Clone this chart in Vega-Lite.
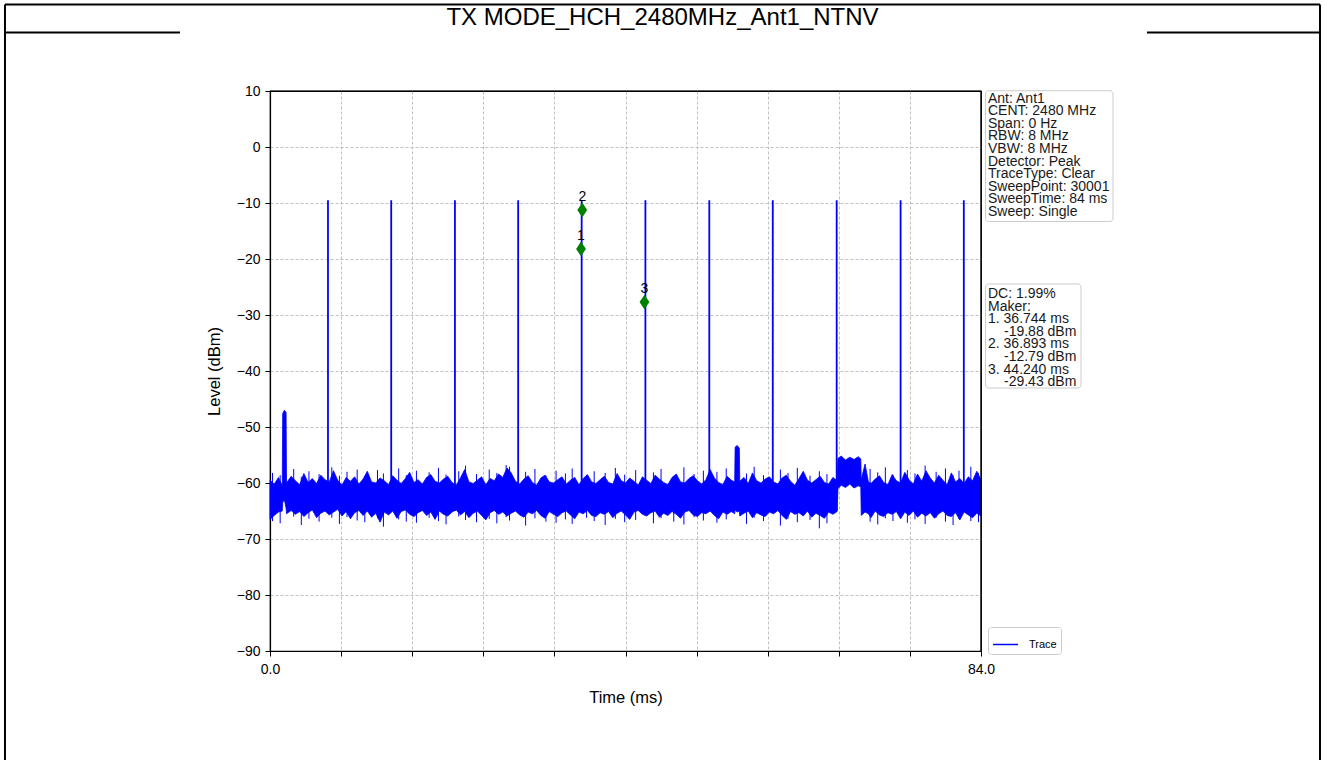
{
  "$schema": "https://vega.github.io/schema/vega-lite/v6.json",
  "autosize": "none",
  "width": 711,
  "height": 560,
  "padding": {"left": 270, "top": 91, "right": 344, "bottom": 109},
  "background": "white",
  "config": {
    "view": {"stroke": "#000000", "strokeWidth": 1.2},
    "font": "Liberation Sans",
    "axis": {"labelFont": "Liberation Sans", "labelFontSize": 14, "labelColor": "#000000", "labelFlush": false, "titleFont": "Liberation Sans", "titleFontSize": 16.5, "titleFontWeight": "normal", "titleColor": "#000000", "domainColor": "#000000", "domainWidth": 1.2, "tickColor": "#000000", "tickSize": 5, "tickWidth": 1, "gridColor": "#b0b0b0", "gridDash": [3, 2], "gridWidth": 0.8, "labelPadding": 5}
  },
  "datasets": {
    "noise": [
      {"t": 0.0, "hi": -59.5, "lo": -66.5}, {"t": 0.5, "hi": -60.2, "lo": -65.8}, {"t": 1.0, "hi": -59.0, "lo": -65.2}, {"t": 1.45, "hi": -60.5, "lo": -65.0},
      {"t": 1.5, "hi": -47.6, "lo": -63.5}, {"t": 1.7, "hi": -47.0, "lo": -63.0}, {"t": 1.9, "hi": -47.4, "lo": -64.5}, {"t": 1.95, "hi": -60.0, "lo": -65.5},
      {"t": 2.5, "hi": -58.8, "lo": -64.9}, {"t": 3.0, "hi": -59.6, "lo": -65.6}, {"t": 3.5, "hi": -60.3, "lo": -65.1}, {"t": 4.0, "hi": -58.3, "lo": -66.0},
      {"t": 4.5, "hi": -59.9, "lo": -65.3}, {"t": 5.0, "hi": -59.2, "lo": -64.8}, {"t": 5.5, "hi": -60.1, "lo": -66.2}, {"t": 6.0, "hi": -58.6, "lo": -65.4},
      {"t": 6.5, "hi": -59.4, "lo": -65.0}, {"t": 7.0, "hi": -59.8, "lo": -65.7}, {"t": 7.5, "hi": -57.8, "lo": -65.2}, {"t": 8.0, "hi": -59.5, "lo": -64.7},
      {"t": 8.5, "hi": -60.4, "lo": -65.9}, {"t": 9.0, "hi": -59.0, "lo": -65.1}, {"t": 9.5, "hi": -59.7, "lo": -66.4}, {"t": 10.0, "hi": -58.9, "lo": -65.3},
      {"t": 10.5, "hi": -60.2, "lo": -64.9}, {"t": 11.0, "hi": -59.3, "lo": -65.8}, {"t": 11.5, "hi": -57.9, "lo": -65.0}, {"t": 12.0, "hi": -59.8, "lo": -66.1},
      {"t": 12.5, "hi": -60.0, "lo": -65.4}, {"t": 13.0, "hi": -59.1, "lo": -67.0}, {"t": 13.5, "hi": -59.6, "lo": -65.2}, {"t": 14.0, "hi": -60.3, "lo": -65.7},
      {"t": 14.5, "hi": -58.7, "lo": -65.0}, {"t": 15.0, "hi": -59.5, "lo": -66.3}, {"t": 15.5, "hi": -60.1, "lo": -65.1}, {"t": 16.0, "hi": -59.2, "lo": -64.8},
      {"t": 16.5, "hi": -58.1, "lo": -65.6}, {"t": 17.0, "hi": -59.9, "lo": -66.0}, {"t": 17.5, "hi": -59.4, "lo": -65.3}, {"t": 18.0, "hi": -60.2, "lo": -64.9},
      {"t": 18.5, "hi": -59.0, "lo": -65.8}, {"t": 19.0, "hi": -58.5, "lo": -65.2}, {"t": 19.5, "hi": -59.7, "lo": -66.5}, {"t": 20.0, "hi": -60.0, "lo": -65.0},
      {"t": 20.5, "hi": -59.3, "lo": -65.6}, {"t": 21.0, "hi": -58.8, "lo": -65.9}, {"t": 21.5, "hi": -59.9, "lo": -65.2}, {"t": 22.0, "hi": -60.4, "lo": -64.8},
      {"t": 22.5, "hi": -59.1, "lo": -65.7}, {"t": 23.0, "hi": -57.6, "lo": -65.1}, {"t": 23.5, "hi": -59.8, "lo": -66.2}, {"t": 24.0, "hi": -60.1, "lo": -65.4},
      {"t": 24.5, "hi": -59.5, "lo": -65.0}, {"t": 25.0, "hi": -58.9, "lo": -65.8}, {"t": 25.5, "hi": -60.3, "lo": -66.6}, {"t": 26.0, "hi": -59.2, "lo": -65.3},
      {"t": 26.5, "hi": -59.6, "lo": -64.9}, {"t": 27.0, "hi": -58.4, "lo": -65.6}, {"t": 27.5, "hi": -59.0, "lo": -65.2}, {"t": 28.0, "hi": -57.3, "lo": -65.9},
      {"t": 28.5, "hi": -58.2, "lo": -65.4}, {"t": 29.0, "hi": -59.7, "lo": -65.0}, {"t": 29.5, "hi": -60.2, "lo": -65.7}, {"t": 30.0, "hi": -59.3, "lo": -66.1},
      {"t": 30.5, "hi": -58.7, "lo": -65.2}, {"t": 31.0, "hi": -59.9, "lo": -65.5}, {"t": 31.5, "hi": -60.4, "lo": -64.9}, {"t": 32.0, "hi": -59.1, "lo": -65.8},
      {"t": 32.5, "hi": -58.6, "lo": -66.3}, {"t": 33.0, "hi": -59.8, "lo": -65.1}, {"t": 33.5, "hi": -60.0, "lo": -65.6}, {"t": 34.0, "hi": -59.4, "lo": -66.0},
      {"t": 34.5, "hi": -58.9, "lo": -65.3}, {"t": 35.0, "hi": -60.2, "lo": -65.0}, {"t": 35.5, "hi": -59.5, "lo": -65.7}, {"t": 36.0, "hi": -59.0, "lo": -66.4},
      {"t": 36.5, "hi": -60.3, "lo": -65.2}, {"t": 37.0, "hi": -59.2, "lo": -65.5}, {"t": 37.5, "hi": -58.5, "lo": -64.9}, {"t": 38.0, "hi": -59.8, "lo": -65.8},
      {"t": 38.5, "hi": -60.1, "lo": -66.0}, {"t": 39.0, "hi": -59.4, "lo": -65.3}, {"t": 39.5, "hi": -58.8, "lo": -65.6}, {"t": 40.0, "hi": -59.9, "lo": -65.1},
      {"t": 40.5, "hi": -60.2, "lo": -66.2}, {"t": 41.0, "hi": -58.3, "lo": -65.4}, {"t": 41.5, "hi": -59.6, "lo": -65.0}, {"t": 42.0, "hi": -60.0, "lo": -65.7},
      {"t": 42.5, "hi": -59.1, "lo": -66.5}, {"t": 43.0, "hi": -59.7, "lo": -65.2}, {"t": 43.5, "hi": -60.4, "lo": -64.9}, {"t": 44.0, "hi": -58.9, "lo": -65.6},
      {"t": 44.5, "hi": -59.5, "lo": -65.9}, {"t": 45.0, "hi": -60.1, "lo": -65.3}, {"t": 45.5, "hi": -58.6, "lo": -65.0}, {"t": 46.0, "hi": -59.3, "lo": -66.1},
      {"t": 46.5, "hi": -59.9, "lo": -65.4}, {"t": 47.0, "hi": -60.3, "lo": -65.8}, {"t": 47.5, "hi": -59.0, "lo": -65.1}, {"t": 48.0, "hi": -58.4, "lo": -65.6},
      {"t": 48.5, "hi": -59.8, "lo": -66.3}, {"t": 49.0, "hi": -60.0, "lo": -65.2}, {"t": 49.5, "hi": -59.2, "lo": -64.9}, {"t": 50.0, "hi": -58.7, "lo": -65.7},
      {"t": 50.5, "hi": -59.6, "lo": -66.0}, {"t": 51.0, "hi": -60.2, "lo": -65.3}, {"t": 51.5, "hi": -59.4, "lo": -65.5}, {"t": 52.0, "hi": -57.6, "lo": -65.0},
      {"t": 52.5, "hi": -59.1, "lo": -65.8}, {"t": 53.0, "hi": -59.9, "lo": -66.4}, {"t": 53.5, "hi": -60.3, "lo": -65.2}, {"t": 54.0, "hi": -58.8, "lo": -65.6},
      {"t": 54.5, "hi": -59.5, "lo": -65.1}, {"t": 54.9, "hi": -59.8, "lo": -65.5}, {"t": 54.95, "hi": -53.6, "lo": -64.8}, {"t": 55.2, "hi": -53.3, "lo": -65.2},
      {"t": 55.45, "hi": -53.8, "lo": -65.0}, {"t": 55.5, "hi": -59.7, "lo": -65.9}, {"t": 56.0, "hi": -59.0, "lo": -65.4}, {"t": 56.5, "hi": -60.1, "lo": -65.0},
      {"t": 57.0, "hi": -58.2, "lo": -66.2}, {"t": 57.5, "hi": -59.6, "lo": -65.3}, {"t": 58.0, "hi": -60.0, "lo": -65.7}, {"t": 58.5, "hi": -59.3, "lo": -66.0},
      {"t": 59.0, "hi": -58.9, "lo": -65.2}, {"t": 59.5, "hi": -59.8, "lo": -65.5}, {"t": 60.0, "hi": -60.2, "lo": -64.9}, {"t": 60.5, "hi": -59.1, "lo": -65.8},
      {"t": 61.0, "hi": -58.6, "lo": -66.5}, {"t": 61.5, "hi": -59.7, "lo": -65.1}, {"t": 62.0, "hi": -60.4, "lo": -65.6}, {"t": 62.5, "hi": -59.2, "lo": -65.3},
      {"t": 63.0, "hi": -57.9, "lo": -65.9}, {"t": 63.5, "hi": -59.5, "lo": -65.0}, {"t": 64.0, "hi": -60.0, "lo": -66.1}, {"t": 64.5, "hi": -59.4, "lo": -65.4},
      {"t": 65.0, "hi": -58.8, "lo": -65.8}, {"t": 65.5, "hi": -59.9, "lo": -66.3}, {"t": 66.0, "hi": -60.2, "lo": -65.2}, {"t": 66.5, "hi": -59.0, "lo": -65.6},
      {"t": 67.0, "hi": -59.6, "lo": -65.1}, {"t": 67.1, "hi": -55.6, "lo": -61.0}, {"t": 67.5, "hi": -55.2, "lo": -60.4}, {"t": 68.0, "hi": -55.9, "lo": -60.8},
      {"t": 68.5, "hi": -55.4, "lo": -60.2}, {"t": 69.0, "hi": -55.8, "lo": -60.9}, {"t": 69.5, "hi": -55.3, "lo": -60.5}, {"t": 69.8, "hi": -55.7, "lo": -60.7},
      {"t": 69.85, "hi": -59.4, "lo": -65.8}, {"t": 70.3, "hi": -56.6, "lo": -65.2}, {"t": 70.7, "hi": -59.8, "lo": -65.5}, {"t": 71.0, "hi": -60.1, "lo": -66.2},
      {"t": 71.5, "hi": -59.3, "lo": -65.0}, {"t": 72.0, "hi": -58.7, "lo": -65.7}, {"t": 72.5, "hi": -59.9, "lo": -66.0}, {"t": 73.0, "hi": -60.3, "lo": -65.3},
      {"t": 73.5, "hi": -58.5, "lo": -65.6}, {"t": 74.0, "hi": -59.6, "lo": -65.1}, {"t": 74.5, "hi": -60.0, "lo": -66.4}, {"t": 75.0, "hi": -58.1, "lo": -65.2},
      {"t": 75.5, "hi": -59.4, "lo": -65.8}, {"t": 76.0, "hi": -60.2, "lo": -65.0}, {"t": 76.5, "hi": -58.4, "lo": -66.1}, {"t": 77.0, "hi": -59.7, "lo": -65.4},
      {"t": 77.5, "hi": -57.8, "lo": -65.9}, {"t": 78.0, "hi": -59.1, "lo": -65.3}, {"t": 78.5, "hi": -60.0, "lo": -66.3}, {"t": 79.0, "hi": -58.6, "lo": -65.5},
      {"t": 79.5, "hi": -59.5, "lo": -65.0}, {"t": 80.0, "hi": -60.3, "lo": -65.8}, {"t": 80.5, "hi": -58.2, "lo": -66.0}, {"t": 81.0, "hi": -59.8, "lo": -65.3},
      {"t": 81.5, "hi": -59.2, "lo": -66.6}, {"t": 82.0, "hi": -60.1, "lo": -65.2}, {"t": 82.5, "hi": -58.9, "lo": -65.7}, {"t": 83.0, "hi": -59.6, "lo": -66.2},
      {"t": 83.5, "hi": -57.9, "lo": -65.4}, {"t": 84.0, "hi": -59.4, "lo": -65.9}
    ],
    "spikes": [
      {"t": 0.3, "top": -58.2, "bottom": -66.8}, {"t": 1.2, "top": -58.6, "bottom": -67.2}, {"t": 2.8, "top": -57.5, "bottom": -66.0}, {"t": 3.7, "top": -58.9, "bottom": -67.5},
      {"t": 4.6, "top": -57.9, "bottom": -66.4}, {"t": 5.8, "top": -58.4, "bottom": -66.9}, {"t": 7.3, "top": -57.2, "bottom": -66.2}, {"t": 8.2, "top": -58.7, "bottom": -67.3},
      {"t": 9.1, "top": -58.0, "bottom": -66.1}, {"t": 10.3, "top": -57.6, "bottom": -66.7}, {"t": 11.2, "top": -58.8, "bottom": -67.0}, {"t": 12.7, "top": -57.7, "bottom": -66.3},
      {"t": 13.4, "top": -58.3, "bottom": -67.8}, {"t": 15.2, "top": -57.4, "bottom": -66.5}, {"t": 16.1, "top": -58.6, "bottom": -66.9}, {"t": 17.3, "top": -57.8, "bottom": -67.1},
      {"t": 18.8, "top": -58.1, "bottom": -66.2}, {"t": 19.9, "top": -57.3, "bottom": -66.8}, {"t": 20.8, "top": -58.5, "bottom": -67.4}, {"t": 22.3, "top": -57.9, "bottom": -66.0},
      {"t": 23.1, "top": -56.9, "bottom": -66.6}, {"t": 24.4, "top": -58.4, "bottom": -67.0}, {"t": 25.9, "top": -57.6, "bottom": -66.4}, {"t": 26.8, "top": -58.2, "bottom": -67.2},
      {"t": 27.9, "top": -56.8, "bottom": -66.1}, {"t": 28.3, "top": -57.1, "bottom": -66.7}, {"t": 30.2, "top": -58.0, "bottom": -67.6}, {"t": 31.3, "top": -57.5, "bottom": -66.3},
      {"t": 32.6, "top": -58.7, "bottom": -66.9}, {"t": 33.8, "top": -57.8, "bottom": -67.1}, {"t": 34.9, "top": -58.3, "bottom": -66.5}, {"t": 35.7, "top": -57.4, "bottom": -67.3},
      {"t": 37.4, "top": -58.6, "bottom": -66.2}, {"t": 38.3, "top": -57.9, "bottom": -66.8}, {"t": 39.6, "top": -58.2, "bottom": -67.5}, {"t": 40.8, "top": -57.3, "bottom": -66.4},
      {"t": 41.9, "top": -58.5, "bottom": -67.0}, {"t": 43.2, "top": -57.7, "bottom": -66.6}, {"t": 45.3, "top": -58.1, "bottom": -67.2}, {"t": 46.2, "top": -57.5, "bottom": -66.3},
      {"t": 47.7, "top": -58.8, "bottom": -66.9}, {"t": 48.9, "top": -57.2, "bottom": -67.4}, {"t": 50.1, "top": -58.4, "bottom": -66.1}, {"t": 51.2, "top": -57.8, "bottom": -66.7},
      {"t": 52.8, "top": -58.0, "bottom": -67.1}, {"t": 53.9, "top": -57.4, "bottom": -66.5}, {"t": 56.3, "top": -58.3, "bottom": -67.3}, {"t": 57.2, "top": -57.1, "bottom": -66.2},
      {"t": 58.3, "top": -58.6, "bottom": -66.8}, {"t": 60.3, "top": -57.6, "bottom": -67.6}, {"t": 61.2, "top": -58.2, "bottom": -66.4}, {"t": 62.3, "top": -57.3, "bottom": -67.0},
      {"t": 63.8, "top": -58.7, "bottom": -66.6}, {"t": 64.9, "top": -57.9, "bottom": -68.1}, {"t": 65.8, "top": -58.4, "bottom": -67.2}, {"t": 70.9, "top": -57.5, "bottom": -66.9},
      {"t": 71.8, "top": -58.1, "bottom": -67.4}, {"t": 72.7, "top": -57.2, "bottom": -66.3}, {"t": 73.6, "top": -58.5, "bottom": -66.8}, {"t": 75.3, "top": -57.7, "bottom": -67.1},
      {"t": 76.2, "top": -58.3, "bottom": -66.5}, {"t": 77.4, "top": -56.9, "bottom": -67.3}, {"t": 78.7, "top": -58.0, "bottom": -66.2}, {"t": 79.8, "top": -57.4, "bottom": -66.9},
      {"t": 80.7, "top": -58.6, "bottom": -67.5}, {"t": 81.4, "top": -57.8, "bottom": -66.4}, {"t": 82.8, "top": -57.1, "bottom": -66.8}, {"t": 83.7, "top": -58.2, "bottom": -67.0}
    ],
    "pulses": [
      {"t": 6.85, "peak": -9.5, "floor": -65.0, "series": "Trace"},
      {"t": 14.32, "peak": -9.5, "floor": -65.0, "series": "Trace"},
      {"t": 21.85, "peak": -9.5, "floor": -65.0, "series": "Trace"},
      {"t": 29.32, "peak": -9.5, "floor": -65.0, "series": "Trace"},
      {"t": 36.82, "peak": -9.5, "floor": -65.0, "series": "Trace"},
      {"t": 44.35, "peak": -9.5, "floor": -65.0, "series": "Trace"},
      {"t": 51.9, "peak": -9.5, "floor": -65.0, "series": "Trace"},
      {"t": 59.4, "peak": -9.5, "floor": -65.0, "series": "Trace"},
      {"t": 66.95, "peak": -9.5, "floor": -65.0, "series": "Trace"},
      {"t": 74.5, "peak": -9.5, "floor": -65.0, "series": "Trace"},
      {"t": 81.97, "peak": -9.5, "floor": -65.0, "series": "Trace"}
    ],
    "markers": [
      {"t": 36.744, "level": -18.2, "label": "1"},
      {"t": 36.893, "level": -11.25, "label": "2"},
      {"t": 44.24, "level": -27.7, "label": "3"}
    ]
  },
  "layer": [
    {
      "data": {"values": [{}]},
      "mark": {"type": "rule", "stroke": "#000000", "strokeWidth": 2, "clip": false},
      "encoding": {
        "x": {"datum": -31.31, "type": "quantitative", "scale": {"domain": [0, 84], "nice": false, "zero": false}},
        "y": {"datum": 25.45, "type": "quantitative", "scale": {"domain": [-90, 10], "nice": false}},
        "y2": {"datum": -115}
      }
    },
    {
      "data": {"values": [{}]},
      "mark": {"type": "rule", "stroke": "#000000", "strokeWidth": 2, "clip": false},
      "encoding": {
        "x": {"datum": 124.05, "type": "quantitative", "scale": {"domain": [0, 84], "nice": false, "zero": false}},
        "y": {"datum": 25.45, "type": "quantitative", "scale": {"domain": [-90, 10], "nice": false}},
        "y2": {"datum": -115}
      }
    },
    {
      "data": {"values": [{}]},
      "mark": {"type": "rule", "stroke": "#000000", "strokeWidth": 2, "clip": false},
      "encoding": {
        "x": {"datum": -31.31, "type": "quantitative", "scale": {"domain": [0, 84], "nice": false, "zero": false}},
        "x2": {"datum": 124.05},
        "y": {"datum": 25.45, "type": "quantitative", "scale": {"domain": [-90, 10], "nice": false}}
      }
    },
    {
      "data": {"values": [{}]},
      "mark": {"type": "rule", "stroke": "#000000", "strokeWidth": 2, "clip": false},
      "encoding": {
        "x": {"datum": -31.31, "type": "quantitative", "scale": {"domain": [0, 84], "nice": false, "zero": false}},
        "x2": {"datum": -10.63},
        "y": {"datum": 20.45, "type": "quantitative", "scale": {"domain": [-90, 10], "nice": false}}
      }
    },
    {
      "data": {"values": [{}]},
      "mark": {"type": "rule", "stroke": "#000000", "strokeWidth": 2, "clip": false},
      "encoding": {
        "x": {"datum": 103.61, "type": "quantitative", "scale": {"domain": [0, 84], "nice": false, "zero": false}},
        "x2": {"datum": 124.05},
        "y": {"datum": 20.45, "type": "quantitative", "scale": {"domain": [-90, 10], "nice": false}}
      }
    },
    {
      "data": {"values": [{"title": "TX MODE_HCH_2480MHz_Ant1_NTNV"}]},
      "mark": {"type": "text", "font": "Liberation Sans", "fontSize": 24, "color": "#000000", "align": "center", "baseline": "alphabetic", "dx": 37, "clip": false},
      "encoding": {
        "x": {"datum": 42, "type": "quantitative", "scale": {"domain": [0, 84], "nice": false, "zero": false}},
        "y": {"datum": 21.7, "type": "quantitative", "scale": {"domain": [-90, 10], "nice": false}},
        "text": {"field": "title"}
      }
    },
    {
      "data": {"name": "noise"},
      "mark": {"type": "area", "color": "#0000ff", "opacity": 1, "stroke": "#0000ff", "strokeWidth": 0.8},
      "encoding": {
        "x": {"field": "t", "type": "quantitative", "scale": {"domain": [0, 84], "nice": false, "zero": false},
          "axis": {"title": "Time (ms)", "values": [0, 8.4, 16.8, 25.2, 33.6, 42, 50.4, 58.8, 67.2, 75.6, 84], "labelExpr": "datum.value == 0 || datum.value == 84 ? format(datum.value, '.1f') : ''", "labelPadding": 6, "titlePadding": 13, "grid": true,
            "gridOpacity": {"condition": {"test": "datum.value == 0 || datum.value == 84", "value": 0}, "value": 1}}},
        "y": {"field": "hi", "type": "quantitative", "scale": {"domain": [-90, 10], "nice": false},
          "axis": {"title": "Level (dBm)", "values": [-90, -80, -70, -60, -50, -40, -30, -20, -10, 0, 10], "format": "d", "titlePadding": 14, "grid": true,
            "gridOpacity": {"condition": {"test": "datum.value == 10 || datum.value == -90", "value": 0}, "value": 1}}},
        "y2": {"field": "lo"}
      }
    },
    {
      "data": {"name": "spikes"},
      "mark": {"type": "rule", "color": "#0000ff", "strokeWidth": 1},
      "encoding": {
        "x": {"field": "t", "type": "quantitative", "scale": {"domain": [0, 84], "nice": false, "zero": false}},
        "y": {"field": "top", "type": "quantitative", "scale": {"domain": [-90, 10], "nice": false}},
        "y2": {"field": "bottom"}
      }
    },
    {
      "data": {"name": "pulses"},
      "mark": {"type": "rule", "strokeWidth": 1.8},
      "encoding": {
        "x": {"field": "t", "type": "quantitative", "scale": {"domain": [0, 84], "nice": false, "zero": false}},
        "y": {"field": "peak", "type": "quantitative", "scale": {"domain": [-90, 10], "nice": false}},
        "y2": {"field": "floor"},
        "color": {"field": "series", "type": "nominal", "scale": {"range": ["#0000ff"]},
          "legend": {"title": null, "orient": "none", "legendX": 718, "legendY": 536, "symbolType": "stroke", "symbolSize": 625, "symbolStrokeWidth": 1.5, "labelFontSize": 11, "labelFont": "Liberation Sans", "labelColor": "#000000", "labelOffset": 10, "padding": 4, "strokeColor": "#cccccc", "cornerRadius": 3, "fillColor": "#ffffff"}}
      }
    },
    {
      "data": {"values": [{}]},
      "mark": {"type": "rule", "stroke": "#000000", "strokeWidth": 1.2, "clip": false},
      "encoding": {
        "x": {"datum": 0, "type": "quantitative", "scale": {"domain": [0, 84], "nice": false, "zero": false}},
        "x2": {"datum": 84},
        "y": {"datum": 10, "type": "quantitative", "scale": {"domain": [-90, 10], "nice": false}}
      }
    },
    {
      "data": {"values": [{}]},
      "mark": {"type": "rule", "stroke": "#000000", "strokeWidth": 1.2, "clip": false},
      "encoding": {
        "x": {"datum": 84, "type": "quantitative", "scale": {"domain": [0, 84], "nice": false, "zero": false}},
        "y": {"datum": 10, "type": "quantitative", "scale": {"domain": [-90, 10], "nice": false}},
        "y2": {"datum": -90}
      }
    },
    {
      "data": {"name": "markers"},
      "mark": {"type": "point", "shape": "M0,-1L0.66,0L0,1L-0.66,0Z", "size": 220, "filled": true, "color": "#008000", "opacity": 1},
      "encoding": {
        "x": {"field": "t", "type": "quantitative", "scale": {"domain": [0, 84], "nice": false, "zero": false}},
        "y": {"field": "level", "type": "quantitative", "scale": {"domain": [-90, 10], "nice": false}}
      }
    },
    {
      "data": {"name": "markers"},
      "mark": {"type": "text", "fontSize": 14, "font": "Liberation Sans", "color": "#000000", "dy": -13, "baseline": "middle", "align": "center"},
      "encoding": {
        "x": {"field": "t", "type": "quantitative", "scale": {"domain": [0, 84], "nice": false, "zero": false}},
        "y": {"field": "level", "type": "quantitative", "scale": {"domain": [-90, 10], "nice": false}},
        "text": {"field": "label"}
      }
    },
    {
      "data": {"values": [{}]},
      "mark": {"type": "rect", "fill": "#ffffff", "stroke": "#cccccc", "strokeWidth": 1, "cornerRadius": 3, "clip": false},
      "encoding": {
        "x": {"datum": 84.54, "type": "quantitative", "scale": {"domain": [0, 84], "nice": false, "zero": false}},
        "x2": {"datum": 99.59},
        "y": {"datum": 10.05, "type": "quantitative", "scale": {"domain": [-90, 10], "nice": false}},
        "y2": {"datum": -13.3}
      }
    },
    {
      "data": {"values": [{}]},
      "mark": {"type": "text", "align": "left", "baseline": "top", "font": "Liberation Sans", "fontSize": 14, "lineHeight": 12.6, "color": "#1a1a1a", "dx": 7, "clip": false,
        "text": ["Ant: Ant1", "CENT: 2480 MHz", "Span: 0 Hz", "RBW: 8 MHz", "VBW: 8 MHz", "Detector: Peak", "TraceType: Clear", "SweepPoint: 30001", "SweepTime: 84 ms", "Sweep: Single"]},
      "encoding": {
        "x": {"datum": 84, "type": "quantitative", "scale": {"domain": [0, 84], "nice": false, "zero": false}},
        "y": {"datum": 9.9, "type": "quantitative", "scale": {"domain": [-90, 10], "nice": false}}
      }
    },
    {
      "data": {"values": [{}]},
      "mark": {"type": "rect", "fill": "#ffffff", "stroke": "#cccccc", "strokeWidth": 1, "cornerRadius": 3, "clip": false},
      "encoding": {
        "x": {"datum": 84.54, "type": "quantitative", "scale": {"domain": [0, 84], "nice": false, "zero": false}},
        "x2": {"datum": 95.81},
        "y": {"datum": -24.46, "type": "quantitative", "scale": {"domain": [-90, 10], "nice": false}},
        "y2": {"datum": -43.04}
      }
    },
    {
      "data": {"values": [{}]},
      "mark": {"type": "text", "align": "left", "baseline": "top", "font": "Liberation Sans", "fontSize": 14, "lineHeight": 12.6, "color": "#1a1a1a", "dx": 7, "clip": false,
        "text": ["DC: 1.99%", "Maker:"]},
      "encoding": {
        "x": {"datum": 84, "type": "quantitative", "scale": {"domain": [0, 84], "nice": false, "zero": false}},
        "y": {"datum": -25.0, "type": "quantitative", "scale": {"domain": [-90, 10], "nice": false}}
      }
    },
    {
      "data": {"values": [{}]},
      "mark": {"type": "text", "align": "left", "baseline": "top", "font": "Liberation Sans", "fontSize": 14, "lineHeight": 25.2, "color": "#1a1a1a", "dx": 7, "dy": 25.2, "clip": false,
        "text": ["1. 36.744 ms", "2. 36.893 ms", "3. 44.240 ms"]},
      "encoding": {
        "x": {"datum": 84, "type": "quantitative", "scale": {"domain": [0, 84], "nice": false, "zero": false}},
        "y": {"datum": -25.0, "type": "quantitative", "scale": {"domain": [-90, 10], "nice": false}}
      }
    },
    {
      "data": {"values": [{}]},
      "mark": {"type": "text", "align": "left", "baseline": "top", "font": "Liberation Sans", "fontSize": 14, "lineHeight": 25.2, "color": "#1a1a1a", "dx": 23, "dy": 37.8, "clip": false,
        "text": ["-19.88 dBm", "-12.79 dBm", "-29.43 dBm"]},
      "encoding": {
        "x": {"datum": 84, "type": "quantitative", "scale": {"domain": [0, 84], "nice": false, "zero": false}},
        "y": {"datum": -25.0, "type": "quantitative", "scale": {"domain": [-90, 10], "nice": false}}
      }
    }
  ]
}
